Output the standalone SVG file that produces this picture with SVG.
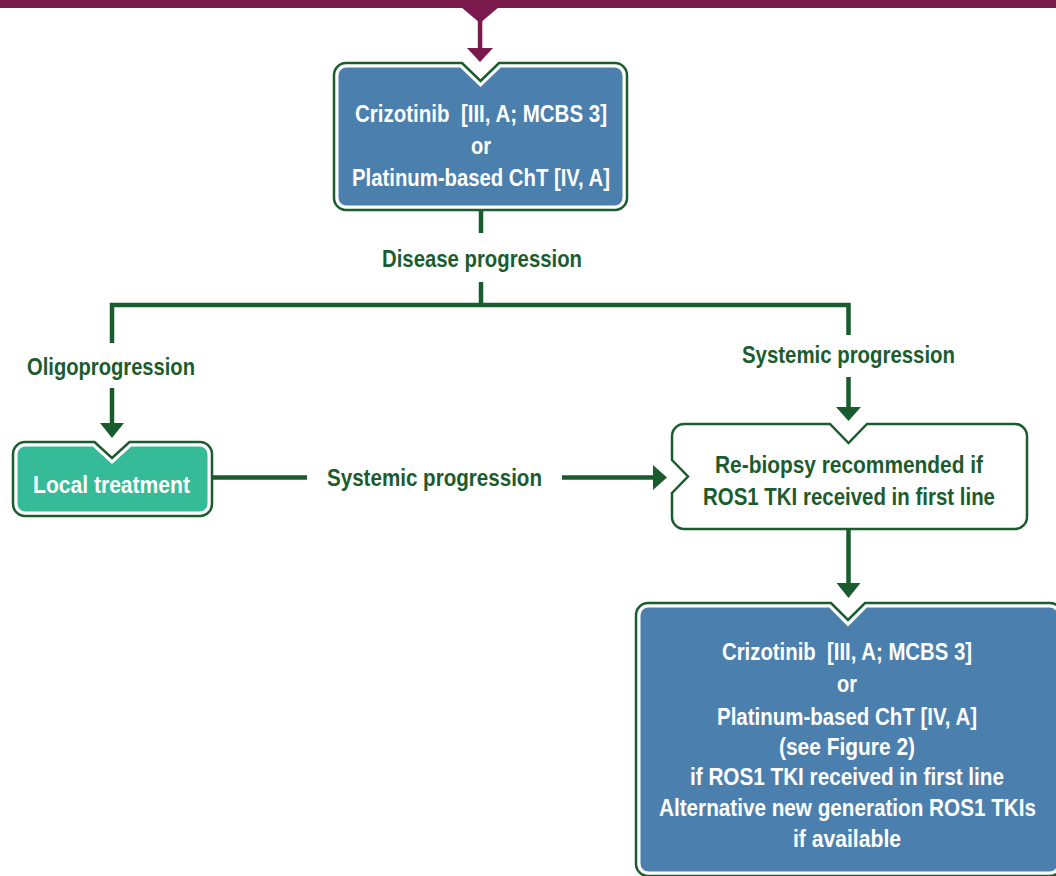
<svg xmlns="http://www.w3.org/2000/svg" width="1056" height="876" viewBox="0 0 1056 876">
  <style>
    .t { font-family: "Liberation Sans", Arial, sans-serif; font-weight: bold; font-size: 24px; text-anchor: middle; }
    .w { fill: #ffffff; }
    .g { fill: #1b5c2e; }
    .outer { fill: #ffffff; stroke: #1b5c2e; stroke-width: 2.5; }
    .blue { fill: #4b80ae; }
    .teal { fill: #35bb97; }
    .line { fill: none; stroke: #1b5c2e; stroke-width: 4.5; stroke-linejoin: miter; }
    .head { fill: #1b5c2e; }
    .maroon { fill: #7a1a4c; }
  </style>

  <g id="top-bar">
    <rect class="maroon" x="0" y="0" width="1056" height="8"/>
    <polygon class="maroon" points="461,7 499,7 480,23"/>
    <rect class="maroon" x="477.8" y="20" width="4.5" height="29"/>
    <polygon class="maroon" points="467,48 493,48 480,62"/>
  </g>

  <g id="connectors">
    <line class="line" x1="481" y1="211" x2="481" y2="233"/>
    <path class="line" d="M481,282 V305"/>
    <path class="line" d="M112,343 V305 H848.5 V335"/>
    <line class="line" x1="112" y1="388" x2="112" y2="424"/>
    <polygon class="head" points="100,423 124,423 112,438"/>
    <line class="line" x1="848.5" y1="377" x2="848.5" y2="408"/>
    <polygon class="head" points="836,407 861,407 848.5,421"/>
    <line class="line" x1="212" y1="477.5" x2="307" y2="477.5"/>
    <line class="line" x1="562" y1="477.5" x2="654" y2="477.5"/>
    <polygon class="head" points="653,465 653,490 667,477.5"/>
    <line class="line" x1="848.5" y1="529" x2="848.5" y2="584"/>
    <polygon class="head" points="836.5,583 860.5,583 848.5,598"/>
    <text class="t g" x="482" y="267" textLength="200" lengthAdjust="spacingAndGlyphs">Disease progression</text>
    <text class="t g" x="111" y="375" textLength="168" lengthAdjust="spacingAndGlyphs">Oligoprogression</text>
    <text class="t g" x="848.5" y="363" textLength="213" lengthAdjust="spacingAndGlyphs">Systemic progression</text>
    <text class="t g" x="434.5" y="486" textLength="215" lengthAdjust="spacingAndGlyphs">Systemic progression</text>
  </g>

  <g id="node-first-line">
    <path class="outer" d="M346,63 H462 L480.5,81 L499,63 H615 A12,12 0 0 1 627,75 V198 A12,12 0 0 1 615,210 H346 A12,12 0 0 1 334,198 V75 A12,12 0 0 1 346,63 Z"/>
    <path class="blue" d="M346.5,67.5 H460.2 L480.5,87 L500.8,67.5 H614.5 A8,8 0 0 1 622.5,75.5 V197.5 A8,8 0 0 1 614.5,205.5 H346.5 A8,8 0 0 1 338.5,197.5 V75.5 A8,8 0 0 1 346.5,67.5 Z"/>
    <text class="t w" x="481" y="121.5" textLength="252" lengthAdjust="spacingAndGlyphs">Crizotinib&#160; [III, A; MCBS 3]</text>
    <text class="t w" x="481" y="153.5" textLength="20" lengthAdjust="spacingAndGlyphs">or</text>
    <text class="t w" x="481" y="186" textLength="258" lengthAdjust="spacingAndGlyphs">Platinum-based ChT [IV, A]</text>
  </g>

  <g id="node-local-treatment">
    <path class="outer" d="M25,442 H94.5 L112,458 L129.5,442 H200 A12,12 0 0 1 212,454 V504 A12,12 0 0 1 200,516 H25 A12,12 0 0 1 13,504 V454 A12,12 0 0 1 25,442 Z"/>
    <path class="teal" d="M25.5,446.5 H92.8 L112,464.1 L131.2,446.5 H199.5 A8,8 0 0 1 207.5,454.5 V503.5 A8,8 0 0 1 199.5,511.5 H25.5 A8,8 0 0 1 17.5,503.5 V454.5 A8,8 0 0 1 25.5,446.5 Z"/>
    <text class="t w" x="111.5" y="493" textLength="157" lengthAdjust="spacingAndGlyphs">Local treatment</text>
  </g>

  <g id="node-rebiopsy">
    <path class="outer" d="M684,424 H830 L848.5,443 L867,424 H1015 A12,12 0 0 1 1027,436 V517 A12,12 0 0 1 1015,529 H684 A12,12 0 0 1 672,517 V493 L688,476.5 L672,460 V436 A12,12 0 0 1 684,424 Z"/>
    <text class="t g" x="849" y="473" textLength="268" lengthAdjust="spacingAndGlyphs">Re-biopsy recommended if</text>
    <text class="t g" x="849" y="505" textLength="292" lengthAdjust="spacingAndGlyphs">ROS1 TKI received in first line</text>
  </g>

  <g id="node-second-line">
    <path class="outer" d="M648,603 H831 L848,620 L865,603 H1050 A12,12 0 0 1 1062,615 V864 A12,12 0 0 1 1050,876 H648 A12,12 0 0 1 636,864 V615 A12,12 0 0 1 648,603 Z"/>
    <path class="blue" d="M648.5,607.5 H829.1 L848,626.4 L866.9,607.5 H1049.5 A8,8 0 0 1 1057.5,615.5 V863.5 A8,8 0 0 1 1049.5,871.5 H648.5 A8,8 0 0 1 640.5,863.5 V615.5 A8,8 0 0 1 648.5,607.5 Z"/>
    <text class="t w" x="847" y="660" textLength="250" lengthAdjust="spacingAndGlyphs">Crizotinib&#160; [III, A; MCBS 3]</text>
    <text class="t w" x="847" y="692" textLength="20" lengthAdjust="spacingAndGlyphs">or</text>
    <text class="t w" x="847" y="724.5" textLength="260" lengthAdjust="spacingAndGlyphs">Platinum-based ChT [IV, A]</text>
    <text class="t w" x="847" y="755" textLength="136" lengthAdjust="spacingAndGlyphs">(see Figure 2)</text>
    <text class="t w" x="847" y="785" textLength="314" lengthAdjust="spacingAndGlyphs">if ROS1 TKI received in first line</text>
    <text class="t w" x="847.5" y="816" textLength="377" lengthAdjust="spacingAndGlyphs">Alternative new generation ROS1 TKIs</text>
    <text class="t w" x="847" y="847" textLength="108" lengthAdjust="spacingAndGlyphs">if available</text>
  </g>
</svg>
